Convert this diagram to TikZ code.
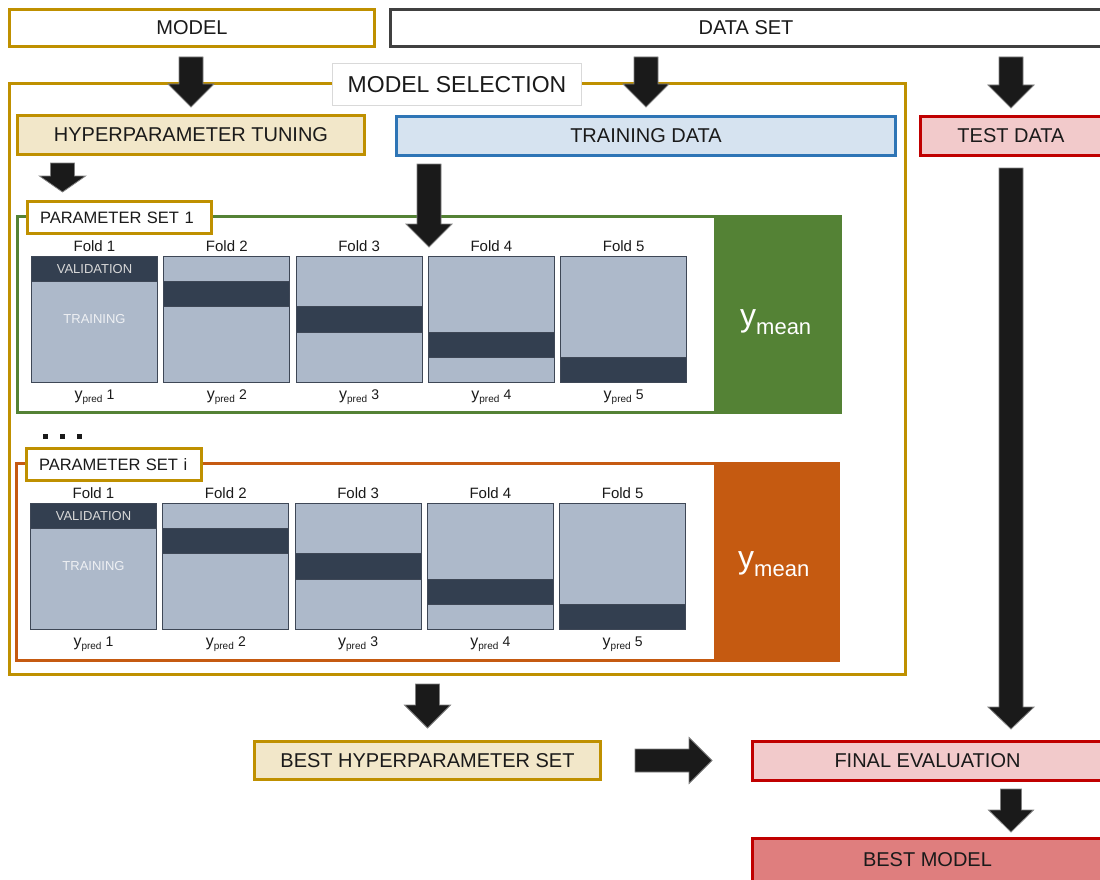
\documentclass[tikz,border=0pt]{standalone}
\usepackage{fontspec}
\setmainfont{Liberation Sans}
\usetikzlibrary{calc}

\definecolor{gold}{HTML}{BF9000}
\definecolor{beige}{HTML}{F2E7C9}
\definecolor{skyfill}{HTML}{D6E3F0}
\definecolor{skyedge}{HTML}{2E75B6}
\definecolor{rosefill}{HTML}{F2CACB}
\definecolor{roseedge}{HTML}{C00000}
\definecolor{rosedark}{HTML}{DF7E7E}
\definecolor{leaf}{HTML}{548235}
\definecolor{rust}{HTML}{C55A11}
\definecolor{slate}{HTML}{404040}
\definecolor{foldlight}{HTML}{ADB9CA}
\definecolor{folddark}{HTML}{333F50}
\definecolor{foldedge}{HTML}{3E4756}
\definecolor{txt}{HTML}{1A1A1A}
\definecolor{blk}{HTML}{1A1A1A}
\definecolor{blkedge}{HTML}{808080}
\definecolor{softgrey}{HTML}{D9D9D9}

% block arrow pointing down: start, tip, shaft half width, head half width, head length
\newcommand\blockdown[5]{%
  \filldraw[fill=blk, draw=blkedge, line width=0.8pt, line join=miter]
    let \p1=(#1), \p2=(#2) in
    (\x1-#3,\y1) -- (\x1+#3,\y1) -- (\x1+#3,\y2+#5) -- (\x1+#4,\y2+#5)
    -- (\x1,\y2) -- (\x1-#4,\y2+#5) -- (\x1-#3,\y2+#5) -- cycle;}
% block arrow pointing right: start, tip, shaft half height, head half height, head length
\newcommand\blockright[5]{%
  \filldraw[fill=blk, draw=blkedge, line width=0.8pt, line join=miter]
    let \p1=(#1), \p2=(#2) in
    (\x1,\y1+#3) -- (\x2-#5,\y1+#3) -- (\x2-#5,\y1+#4) -- (\x2,\y1)
    -- (\x2-#5,\y1-#4) -- (\x2-#5,\y1-#3) -- (\x1,\y1-#3) -- cycle;}
% prediction label of one fold
\newcommand\predlabel[1]{{\fontsize{16}{16}\selectfont y}\raisebox{-3.5pt}{\fontsize{10}{10}\selectfont pred} {\fontsize{14}{14}\selectfont #1}}

\begin{document}
\begin{tikzpicture}[x=1pt, y=-1pt,
  box/.style={draw, line width=3pt, inner sep=0pt, text=txt,
    font=\fontsize{20}{24}\selectfont},
  whitebox/.style={box, draw=gold, fill=white},
  beigebox/.style={box, draw=gold, fill=beige},
  skybox/.style={box, draw=skyedge, fill=skyfill},
  rosebox/.style={box, draw=roseedge, fill=rosefill},
  setframe/.style={draw, line width=3pt, fill=white, inner sep=0pt},
  setlabel/.style={draw=gold, line width=3pt, fill=white, inner xsep=12.5pt,
    inner ysep=0pt, align=left, text=txt, font=\fontsize{16.5}{18}\selectfont},
  fold/.style={draw=foldedge, line width=1pt, fill=foldlight, inner sep=0pt,
    minimum width=126pt, minimum height=126pt},
  strip/.style={fill=folddark, draw=foldedge, line width=1pt},
  foldlab/.style={inner sep=0pt, text=txt, font=\fontsize{15}{15}\selectfont},
  insidelab/.style={inner sep=0pt, font=\fontsize{13}{13}\selectfont},
  meanlab/.style={inner sep=0pt, text=white},
]
\useasboundingbox (0,0) rectangle (1100,880);
\clip (0,0) rectangle (1100,880);

% top row
\node[whitebox, minimum width=365pt, minimum height=37pt] (model) at (192,28) {MODEL};
\node[box, draw=slate, fill=white, minimum width=712pt, minimum height=37pt] (data) at (746,28) {DATA SET};

% model selection frame
\node[setframe, draw=gold, minimum width=896pt, minimum height=591pt] (modsel) at (457.5,379) {};
\node[draw=softgrey, line width=1pt, fill=white, inner sep=0pt, minimum width=249pt,
  minimum height=42pt, text=txt, font=\fontsize{23}{26}\selectfont] (modsellab) at (457,84.5) {MODEL SELECTION};

\node[beigebox, minimum width=347pt, minimum height=39pt] (hyper) at (191,135) {HYPERPARAMETER TUNING};
\node[skybox, minimum width=499pt, minimum height=39pt] (training) at (646,136) {TRAINING DATA};
\node[rosebox, minimum width=181pt, minimum height=39pt] (test) at (1011,136) {TEST DATA};

% parameter set 1
\node[setframe, draw=leaf, minimum width=823pt, minimum height=196pt] (ps1) at (429,314.5) {};
\fill[leaf] (714,215) rectangle (842,414);
\node[setlabel, text width=159pt, minimum height=32pt] (ps1lab) at (119.5,217.5) {PARAMETER SET 1};

\foreach \k in {1,...,5} {
  \node[fold] (f1\k) at ({31+132.3*(\k-1)+63.5},319.5) {};
  \filldraw[strip] ($(f1\k.north west)+(0.5,{25.2*(\k-1)+0.5})$) rectangle ($(f1\k.north east)+(-0.5,{25.2*\k+0.5})$);
  \node[foldlab, anchor=base] (fl1\k) at ($(f1\k.north)+(0,-4.5)$) {Fold \k};
  \node[foldlab, anchor=base] (yp1\k) at ($(f1\k.south)+(0,16)$) {\predlabel{\k}};
}
\node[insidelab, text=softgrey] (val1) at ($(f11.north)+(0,12.7)$) {VALIDATION};
\node[insidelab, text=white!80!foldlight] (tr1) at ($(f11.north)+(0,63)$) {TRAINING};
\node[meanlab, anchor=base west] (ym1) at (740,326.6)
  {\fontsize{32}{32}\selectfont y\raisebox{-8pt}{\fontsize{22}{22}\selectfont mean}};

% ellipsis between the parameter sets
\foreach \i/\x in {1/43,2/60,3/77}
  \fill[txt] (\x,434) rectangle ++(5,5);

% parameter set i
\node[setframe, draw=rust, minimum width=822pt, minimum height=197pt] (psi) at (427.5,562) {};
\fill[rust] (714,462) rectangle (840,662);
\node[setlabel, text width=150pt, minimum height=32pt] (psilab) at (114,464.5) {PARAMETER SET i};

\foreach \k in {1,...,5} {
  \node[fold] (f2\k) at ({30+132.3*(\k-1)+63.5},566.5) {};
  \filldraw[strip] ($(f2\k.north west)+(0.5,{25.2*(\k-1)+0.5})$) rectangle ($(f2\k.north east)+(-0.5,{25.2*\k+0.5})$);
  \node[foldlab, anchor=base] (fl2\k) at ($(f2\k.north)+(0,-4.5)$) {Fold \k};
  \node[foldlab, anchor=base] (yp2\k) at ($(f2\k.south)+(0,16)$) {\predlabel{\k}};
}
\node[insidelab, text=softgrey] (val2) at ($(f21.north)+(0,12.7)$) {VALIDATION};
\node[insidelab, text=white!80!foldlight] (tr2) at ($(f21.north)+(0,63)$) {TRAINING};
\node[meanlab, anchor=base west] (ym2) at (738,568.6)
  {\fontsize{32}{32}\selectfont y\raisebox{-8pt}{\fontsize{22}{22}\selectfont mean}};

% results
\node[beigebox, minimum width=346pt, minimum height=38pt] (besthp) at (427.5,760.5) {BEST HYPERPARAMETER SET};
\node[rosebox, minimum width=350pt, minimum height=39pt] (final) at (927.5,761) {FINAL EVALUATION};
\node[box, draw=roseedge, fill=rosedark, minimum width=350pt, minimum height=43pt] (bestmodel) at (927.5,860) {BEST MODEL};

% connector end points
\coordinate (a1s) at ($(model.south -| hyper.north)+(0,9)$);
\coordinate (a1e) at ($(hyper.north)+(0,-7)$);
\coordinate (a2s) at ($(data.south -| training.north)+(0,9)$);
\coordinate (a2e) at ($(training.north)+(0,-8)$);
\coordinate (a3s) at ($(data.south -| test.north)+(0,9)$);
\coordinate (a3e) at ($(test.north)+(0,-7)$);
\coordinate (a4s) at ($(hyper.south west)+(46.5,7)$);
\coordinate (a4e) at ($(a4s |- ps1lab.north)+(0,-8)$);
\coordinate (a5s) at ($(training.south west)+(34,7)$);
\coordinate (a5e) at ($(a5s |- f14.north)+(0,-9)$);
\coordinate (a6s) at ($(test.south)+(0,11)$);
\coordinate (a6e) at ($(test.south |- final.north)+(0,-11)$);
\coordinate (a7s) at ($(modsel.south -| besthp.north)+(0,8)$);
\coordinate (a7e) at ($(besthp.north)+(0,-12)$);
\coordinate (a8s) at ($(besthp.east)+(33,0)$);
\coordinate (a8e) at ($(a8s -| final.west)+(-39,0)$);
\coordinate (a9s) at ($(final.south -| test.south)+(0,7)$);
\coordinate (a9e) at ($(bestmodel.north -| test.south)+(0,-5)$);

% block arrows
\blockdown{a1s}{a1e}{12pt}{23pt}{23pt}
\blockdown{a2s}{a2e}{12pt}{23pt}{23pt}
\blockdown{a3s}{a3e}{12pt}{23pt}{23pt}
\blockdown{a4s}{a4e}{12pt}{23pt}{16pt}
\blockdown{a5s}{a5e}{12pt}{23pt}{23pt}
\blockdown{a6s}{a6e}{12pt}{23pt}{22pt}
\blockdown{a7s}{a7e}{12pt}{23pt}{23pt}
\blockright{a8s}{a8e}{11.5pt}{23pt}{23pt}
\blockdown{a9s}{a9e}{10.5pt}{22.5pt}{22pt}
\end{tikzpicture}
\end{document}
